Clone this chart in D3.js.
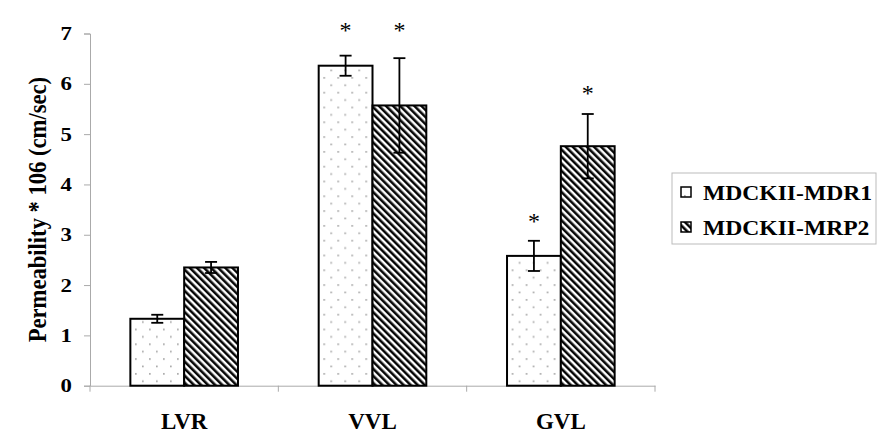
<!DOCTYPE html>
<html><head><meta charset="utf-8">
<script src="https://cdn.jsdelivr.net/npm/d3@7"></script>
<style>body{margin:0;background:#fff}svg{display:block}</style>
</head><body>
<svg id="c" width="890" height="447"></svg>
<script>
const categories = ["LVR", "VVL", "GVL"];
const seriesNames = ["MDCKII-MDR1", "MDCKII-MRP2"];
const mdr1Values = [1.33, 6.36, 2.58];
const mdr1Errors = [0.08, 0.20, 0.30];
const mrp2Values = [2.35, 5.57, 4.76];
const mrp2Errors = [0.11, 0.94, 0.64];
const mdr1Stars = [null, 7.11, 3.31];
const mrp2Stars = [null, 7.11, 5.86];
const yTicks = [0, 1, 2, 3, 4, 5, 6, 7];
const yTitle = "Permeability * 106 (cm/sec)";

(function(){
const svg = d3.select("#c");
const serif = "'Liberation Serif','Times New Roman',serif";
const defs = svg.append("defs");
const dots = defs.append("pattern").attr("id","dots").attr("patternUnits","userSpaceOnUse")
  .attr("width",14).attr("height",14.8);
dots.append("rect").attr("width",14).attr("height",14.8).attr("fill","#fff");
dots.append("rect").attr("x",3).attr("y",3).attr("width",1.7).attr("height",1.7).attr("fill","#aaa");
dots.append("rect").attr("x",10).attr("y",10.4).attr("width",1.7).attr("height",1.7).attr("fill","#aaa");
const hatch = defs.append("pattern").attr("id","hatch").attr("patternUnits","userSpaceOnUse")
  .attr("width",5).attr("height",10).attr("patternTransform","rotate(-45)");
hatch.append("rect").attr("width",5).attr("height",10).attr("fill","#fff");
hatch.append("line").attr("x1",1.3).attr("x2",1.3).attr("y1",0).attr("y2",10)
  .attr("stroke","#000").attr("stroke-width",2.5);

const fills = ["url(#dots)", "url(#hatch)"];
const mL = 90, mR = 655, mT = 33.5, mB = 385.7;
const y = d3.scaleLinear().domain([0, 7]).range([mB, mT]);
const x0 = d3.scaleBand().domain(categories).range([mL, mR]).padding(0);
const x1 = d3.scaleBand().domain(seriesNames).range([0, x0.bandwidth()]).paddingInner(0).paddingOuter(0.75);

const data = categories.map((c, i) => ({
  cat: c,
  bars: [
    {s: seriesNames[0], v: mdr1Values[i], e: mdr1Errors[i], star: mdr1Stars[i], fill: fills[0]},
    {s: seriesNames[1], v: mrp2Values[i], e: mrp2Errors[i], star: mrp2Stars[i], fill: fills[1]}
  ]
}));

const sx = 1.2;
const gy = svg.append("g").attr("transform", `translate(${mL},0)`)
  .call(d3.axisLeft(y).tickValues(yTicks).tickSize(6).tickPadding(18).tickFormat(d3.format("d")));
gy.select(".domain").attr("stroke","#aaa");
gy.selectAll(".tick line").attr("stroke","#aaa");
gy.selectAll("text").attr("font-family",serif).attr("font-weight","bold").attr("font-size",19).attr("fill","#000")
  .attr("x", -18/sx).attr("transform", `scale(${sx},1)`);

const gx = svg.append("g").attr("transform", `translate(0,${mB})`)
  .call(d3.axisBottom(x0).tickSize(0).tickPadding(27));
gx.select(".domain").attr("stroke","#aaa");
gx.selectAll("text").attr("font-family",serif).attr("font-weight","bold").attr("font-size",23).attr("fill","#000");
const bounds = categories.map(c => x0(c)).concat([x0(categories[categories.length-1]) + x0.bandwidth()]);
svg.append("g").selectAll("line").data(bounds).join("line")
  .attr("x1", d => d).attr("x2", d => d).attr("y1", mB).attr("y2", mB + 6)
  .attr("stroke","#aaa");

const groups = svg.append("g").selectAll("g").data(data).join("g")
  .attr("transform", d => `translate(${x0(d.cat)},0)`);
groups.selectAll("rect").data(d => d.bars).join("rect")
  .attr("x", d => x1(d.s)).attr("y", d => y(d.v))
  .attr("width", x1.bandwidth()).attr("height", d => y(0) - y(d.v))
  .attr("fill", d => d.fill).attr("stroke","#000").attr("stroke-width",2);
const eb = groups.selectAll("g.err").data(d => d.bars).join("g").attr("class","err")
  .attr("transform", d => `translate(${x1(d.s) + x1.bandwidth()/2},0)`);
eb.append("line").attr("y1", d => y(d.v + d.e)).attr("y2", d => y(d.v - d.e)).attr("stroke","#000").attr("stroke-width",1.8);
eb.append("line").attr("x1",-6).attr("x2",6).attr("y1", d => y(d.v + d.e)).attr("y2", d => y(d.v + d.e)).attr("stroke","#000").attr("stroke-width",1.8);
eb.append("line").attr("x1",-6).attr("x2",6).attr("y1", d => y(d.v - d.e)).attr("y2", d => y(d.v - d.e)).attr("stroke","#000").attr("stroke-width",1.8);
eb.filter(d => d.star != null).append("text")
  .attr("y", d => y(d.star) + 10).attr("text-anchor","middle")
  .attr("font-family",serif).attr("font-size",24).attr("fill","#000").text("*");

svg.append("text").attr("transform", `translate(46,${(mT+mB)/2}) rotate(-90) scale(1,1.12)`)
  .attr("text-anchor","middle").attr("font-family",serif).attr("font-weight","bold")
  .attr("font-size",22.6).attr("fill","#000").text(yTitle);

const lgx = 1.18;
const lg = svg.append("g").attr("transform","translate(672,173)");
lg.append("rect").attr("width",204).attr("height",71).attr("fill","#fff").attr("stroke","#bbb");
const li = lg.selectAll("g").data(seriesNames).join("g").attr("transform",(d,i)=>`translate(9,${19 + i*35})`);
li.append("rect").attr("y",-5).attr("width",10).attr("height",10).attr("fill",(d,i)=>fills[i]).attr("stroke","#000").attr("stroke-width",1.5);
li.append("text").attr("x",22/lgx).attr("y",7.5).attr("transform",`scale(${lgx},1)`)
  .attr("font-family",serif).attr("font-weight","bold").attr("font-size",20).attr("fill","#000").text(d=>d);
})();
</script>
</body></html>
